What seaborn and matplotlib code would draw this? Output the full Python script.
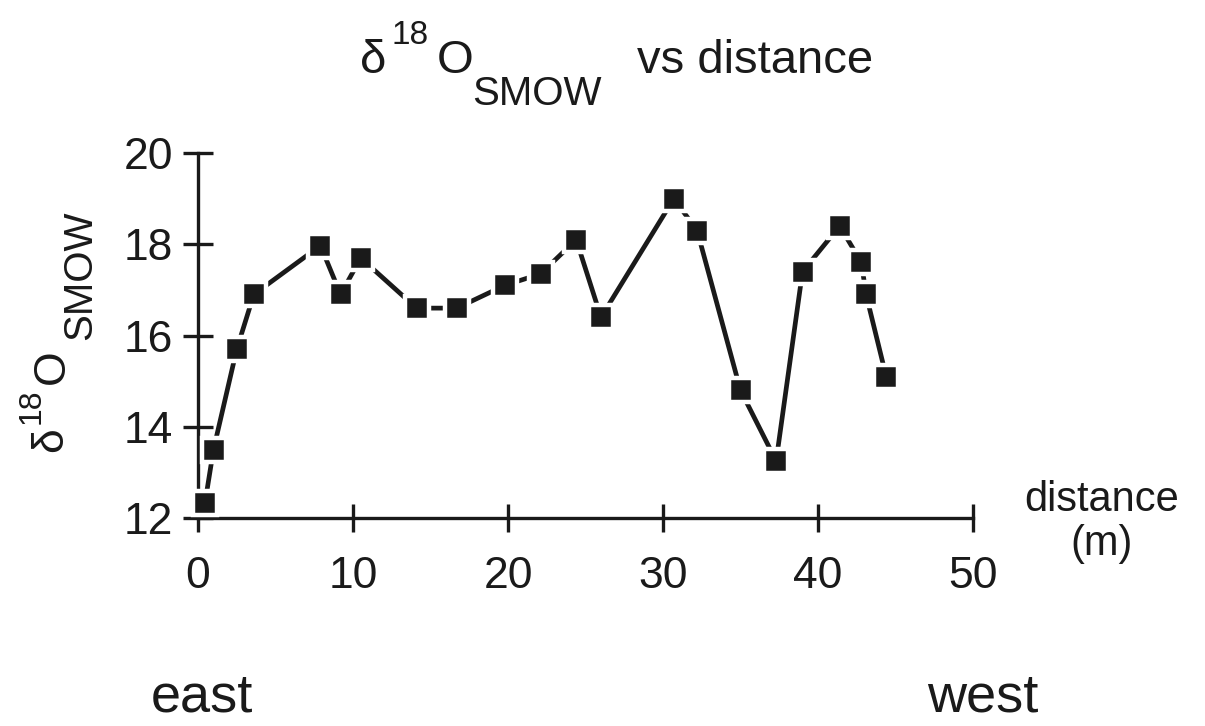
import matplotlib
matplotlib.use("Agg")
import matplotlib.pyplot as plt
import seaborn as sns
import pandas as pd

# values
distance_m = [0.45, 1.0, 2.5, 3.6, 7.9, 9.2, 10.5, 14.1, 16.7, 19.8, 22.1, 24.4,
              26.0, 30.7, 32.2, 35.0, 37.3, 39.0, 41.4, 42.8, 43.1, 44.4]
d18o_smow = [12.33, 13.5, 15.7, 16.9, 17.97, 16.9, 17.7, 16.6, 16.6, 17.1, 17.35, 18.1,
             16.4, 19.0, 18.3, 14.8, 13.25, 17.4, 18.4, 17.6, 16.9, 15.1]
x_ticks = [0, 10, 20, 30, 40, 50]
y_ticks = [12, 14, 16, 18, 20]

W, H = 1205, 726
INK = '#1a1a1a'

sns.set_theme(style="white")
plt.rcParams['font.family'] = ['Liberation Sans', 'DejaVu Sans']

df = pd.DataFrame({'distance': distance_m, 'd18O': d18o_smow})

fig = plt.figure(figsize=(W / 100, H / 100), dpi=100)
ax = fig.add_axes([198 / W, 1 - 518 / H, (973 - 198) / W, (518 - 153) / H])

sns.lineplot(data=df, x='distance', y='d18O', sort=False, ax=ax, color=INK,
             linewidth=3.4, marker='s', markersize=17, markerfacecolor=INK,
             markeredgecolor='white', markeredgewidth=3.2, clip_on=False, zorder=5)

ax.set_xlim(0, 50)
ax.set_ylim(12, 20)
ax.set_xticks(x_ticks)
ax.set_yticks(y_ticks)
for side in ['top', 'right']:
    ax.spines[side].set_visible(False)
for side in ['left', 'bottom']:
    ax.spines[side].set_linewidth(2.4)
    ax.spines[side].set_color(INK)
ax.tick_params(axis='x', bottom=True, direction='inout', length=20, width=2.4,
               labelsize=32, pad=17, colors=INK)
ax.tick_params(axis='y', left=True, direction='inout', length=22, width=2.4,
               labelsize=32, pad=7, colors=INK)
ax.set_xlabel('')
ax.set_ylabel('')


def put(px, py, s, size, rot=0):
    # px, py: start of baseline in pixels from the top-left corner
    fig.text(px / W, 1 - py / H, s, fontsize=size, color=INK, ha='left',
             va='baseline', rotation=rot, rotation_mode='anchor')


# title: δ18O(SMOW) vs distance
put(360, 73, 'δ', 34)
put(392, 44, '18', 24)
put(437, 73, 'O', 34)
put(472, 105, 'SMOW', 29)
put(637, 73, 'vs distance', 34)

# y label, rotated
put(62, 452, 'δ', 32, 90)
put(40, 424, '18', 23, 90)
put(64, 384, 'O', 32, 90)
put(91, 340, 'SMOW', 29, 90)

fig.text(1102 / W, 1 - 522 / H, 'distance\n(m)', fontsize=30, ha='center', va='center',
         linespacing=1.15, color=INK)
fig.text(202 / W, 1 - 712 / H, 'east', fontsize=39, ha='center', va='baseline', color=INK)
fig.text(983 / W, 1 - 712 / H, 'west', fontsize=39, ha='center', va='baseline', color=INK)

fig.savefig('out.png', dpi=100)
